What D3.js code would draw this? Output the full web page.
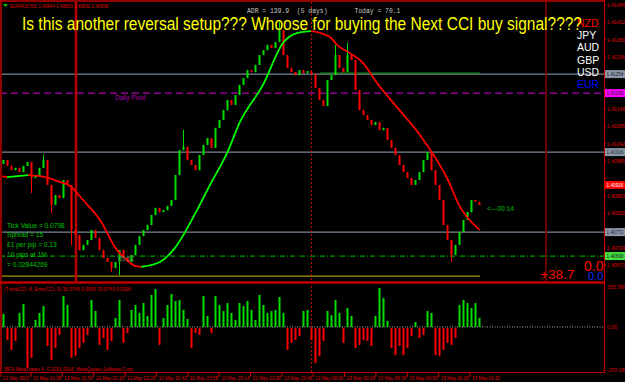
<!DOCTYPE html>
<html>
<head>
<meta charset="utf-8">
<script src="https://cdn.jsdelivr.net/npm/d3@7"></script>
<style>
body{margin:0;background:#000;overflow:hidden}
svg{display:block}
</style>
</head>
<body>
<svg id="vis"></svg>
<script>
// candle closes, one per bar (open = previous close)
const firstOpen = 1.40980;
const closes = [
  1.40992,1.40974,1.40961,1.40968,1.40955,1.40974,1.40986,1.40937,1.40943,1.40968,
  1.40992,1.40916,1.40855,1.40885,1.40876,1.40931,1.40916,1.40778,1.40763,1.40717,
  1.40733,1.40748,1.40778,1.40754,1.40717,1.40693,1.40681,1.40663,1.40681,1.40717,
  1.40693,1.40681,1.40702,1.40733,1.40760,1.40778,1.40794,1.40824,1.40846,1.40833,
  1.40839,1.40852,1.40870,1.40946,1.41022,1.41032,1.40992,1.40977,1.40961,1.41007,
  1.41038,1.41059,1.41029,1.41090,1.41114,1.41144,1.41175,1.41160,1.41190,1.41221,
  1.41242,1.41266,1.41260,1.41282,1.41312,1.41327,1.41343,1.41334,1.41352,1.41388,
  1.41312,1.41273,1.41260,1.41251,1.41266,1.41257,1.41263,1.41254,1.41212,1.41175,
  1.41157,1.41236,1.41251,1.41312,1.41273,1.41260,1.41312,1.41297,1.41205,1.41144,
  1.41129,1.41114,1.41099,1.41108,1.41083,1.41090,1.41053,1.41029,1.41007,1.40977,
  1.40955,1.40937,1.40916,1.40931,1.40955,1.40992,1.41016,1.40961,1.40916,1.40870,
  1.40794,1.40748,1.40702,1.40733,1.40772,1.40809,1.40833,1.40870,1.40864,1.40855
];
// long wicks: [bar, high, low]
const wicks = [
  [7, null, 1.40891],[10, 1.41007, null],[12, null, 1.40830],[17, null, 1.40733],
  [27, null, 1.40650],[29, null, 1.40641],[45, 1.41084, null],[69, 1.41413, null],
  [83, 1.41343, null],[86, 1.41349, null],[112, null, 1.40681]
];
// moving average: [bar, price]
const maPoints = [
  [-0.75,1.40943],[1,1.40940],[6.25,1.40946],[10.5,1.40940],[14.25,1.40925],[16.75,1.40913],
  [20,1.40870],[24.25,1.40809],[28.5,1.40717],[31,1.40687],[33,1.40669],[34.5,1.40666],
  [39.25,1.40681],[43,1.40724],[48.5,1.40839],[51.75,1.40916],[56,1.41013],[59.25,1.41108],
  [65,1.41221],[70,1.41349],[73.5,1.41379],[77.25,1.41385],[81.75,1.41367],[83.5,1.41343],
  [86.75,1.41318],[90,1.41288],[93.5,1.41227],[98,1.41160],[104.25,1.41068],[111.25,1.40931],
  [114.25,1.40849],[116,1.40818],[119.25,1.40778]
];
// CCI histogram
const cci = [
  82,-82,-144,-88,88,144,-257,-194,44,88,
  132,-119,-207,-132,-50,194,138,-194,-182,-132,
  -100,-50,169,100,-113,-69,-144,-88,56,169,
  -100,-38,107,138,88,150,69,201,238,-113,
  56,138,207,163,169,107,50,-132,-38,-50,
  194,69,-38,194,138,100,150,88,44,150,
  132,163,107,44,201,138,88,100,107,188,
  88,-144,-100,-82,-56,100,107,-82,-226,-182,
  -88,100,75,169,88,-100,119,69,-132,-113,
  -82,-88,-119,69,245,182,38,-132,-176,-119,
  -176,-132,-56,31,-69,-50,100,88,-176,-182,
  -144,-100,-113,-69,138,169,150,119,150,56
];
const priceTicks = [1.41465,1.41412,1.41360,1.41306,1.41253,1.41200,1.41148,1.41095,1.41042,
  1.40989,1.40936,1.40883,1.40830,1.40777,1.40724,1.40671];
const grayLevels = [1.41254, 1.41016, 1.40772];
const pivotLevel = 1.41196;
const bidLevel = 1.40916;
const greenLevel = 1.40699;
const oliveLevel = 1.40638;
const shortGreenLevel = 1.41257;
const cciTicks = [250.7961, 0, -270.1889];
const timeLabels = ["12 May 2015","12 May 21:38","12 May 21:54","12 May 22:10","12 May 22:26",
  "12 May 22:42","12 May 22:58","12 May 23:14","12 May 23:30","12 May 23:46","13 May 00:02",
  "13 May 00:18","13 May 00:34","13 May 00:50","13 May 01:06","13 May 01:22"];
const timeValues = [[2015,4,12,21,22],[2015,4,12,21,38],[2015,4,12,21,54],[2015,4,12,22,10],
  [2015,4,12,22,26],[2015,4,12,22,42],[2015,4,12,22,58],[2015,4,12,23,14],[2015,4,12,23,30],
  [2015,4,12,23,46],[2015,4,13,0,2],[2015,4,13,0,18],[2015,4,13,0,34],[2015,4,13,0,50],
  [2015,4,13,1,6],[2015,4,13,1,22]].map(a => new Date(a[0],a[1],a[2],a[3],a[4]));
const currencies = [["NZD","#ff0000"],["JPY","#ffffff"],["AUD","#ffffff"],["GBP","#ffffff"],["USD","#ffffff"],["EUR","#0000ff"]];
const infoLines = ["Tick Value = 0.0798","Spread = 15","\u00a31 per pip = 0.13","10 pips at 1%","= 0.02844269"];

const W = 625, H = 382;
const axisX = 604;
const svg = d3.select("#vis").attr("width", W).attr("height", H);
svg.append("rect").attr("width", W).attr("height", H).attr("fill", "#000");

const xBar = d3.scaleLinear().domain([0, 119]).range([3, 479]);
const y = d3.scaleLinear().domain([1.41480, 1.40626]).range([0, 280]);
const yC = d3.scaleLinear().domain([250.7961, -270.1889]).range([287, 370]);
const xTime = d3.scaleTime().domain([timeValues[1], timeValues[15]]).range([31, 470]);

svg.append("defs").append("clipPath").attr("id", "mainClip")
  .append("rect").attr("x", 2).attr("y", 2).attr("width", axisX - 2).attr("height", 279);
const main = svg.append("g").attr("clip-path", "url(#mainClip)");

// horizontal levels
grayLevels.forEach(p => {
  main.append("line").attr("x1", 0).attr("x2", axisX).attr("y1", y(p)).attr("y2", y(p))
    .attr("stroke", "#778899").attr("stroke-width", 1.2);
});
main.append("line").attr("x1", 320).attr("x2", 480).attr("y1", y(shortGreenLevel)).attr("y2", y(shortGreenLevel))
  .attr("stroke", "#1f8a1f").attr("stroke-width", 1.2);
main.append("line").attr("x1", 0).attr("x2", axisX).attr("y1", y(pivotLevel)).attr("y2", y(pivotLevel))
  .attr("stroke", "#b000b0").attr("stroke-width", 1.2).attr("stroke-dasharray", "7,4");
main.append("line").attr("x1", 0).attr("x2", axisX).attr("y1", y(greenLevel)).attr("y2", y(greenLevel))
  .attr("stroke", "#00a000").attr("stroke-width", 1.2).attr("stroke-dasharray", "5,2,1,2");
main.append("line").attr("x1", 2).attr("x2", 480).attr("y1", y(oliveLevel)).attr("y2", y(oliveLevel))
  .attr("stroke", "#a89a00").attr("stroke-width", 1.2);

// vertical separators
main.append("line").attr("x1", 76).attr("x2", 76).attr("y1", 0).attr("y2", 282)
  .attr("stroke", "#b80000").attr("stroke-width", 2.5);
main.append("line").attr("x1", 546).attr("x2", 546).attr("y1", 0).attr("y2", 282)
  .attr("stroke", "#8a0000").attr("stroke-width", 1.5);
svg.append("line").attr("x1", 311.5).attr("x2", 311.5).attr("y1", 2).attr("y2", 372)
  .attr("stroke", "#d00000").attr("stroke-dasharray", "2,2");

// candles
const bars = closes.map((c, i) => {
  const o = i === 0 ? firstOpen : closes[i - 1];
  return {i, o, c, h: Math.max(o, c), l: Math.min(o, c)};
});
wicks.forEach(w => {
  if (w[1] != null) bars[w[0]].h = w[1];
  if (w[2] != null) bars[w[0]].l = w[2];
});
main.selectAll(".wick").data(bars).enter().append("line")
  .attr("x1", d => xBar(d.i) + 0.5).attr("x2", d => xBar(d.i) + 0.5)
  .attr("y1", d => y(d.h)).attr("y2", d => y(d.l))
  .attr("stroke", d => d.c >= d.o ? "#00e000" : "#ff0000");
main.selectAll(".body").data(bars).enter().append("rect")
  .attr("x", d => xBar(d.i) - 0.5).attr("width", 2)
  .attr("y", d => y(d.h === d.l ? d.h : Math.max(d.o, d.c)))
  .attr("height", d => Math.max(1, Math.abs(y(d.o) - y(d.c))))
  .attr("fill", d => d.c >= d.o ? "#00e000" : "#ff0000");

// moving average split into rising / falling runs
const runs = [];
for (let k = 1; k < maPoints.length; k++) {
  const up = maPoints[k][1] > maPoints[k - 1][1];
  const last = runs[runs.length - 1];
  if (last && last.up === up) last.pts.push(maPoints[k]);
  else runs.push({up, pts: [maPoints[k - 1], maPoints[k]]});
}
const maLine = d3.line().x(d => xBar(d[0])).y(d => y(d[1])).curve(d3.curveMonotoneX);
runs.forEach(r => {
  main.append("path").attr("d", maLine(r.pts)).attr("fill", "none")
    .attr("stroke", r.up ? "#00ff00" : "#ff0000").attr("stroke-width", 1.8);
});

// CCI sub-window
svg.append("line").attr("x1", 2).attr("x2", axisX).attr("y1", yC(0)).attr("y2", yC(0))
  .attr("stroke", "#a8a8a8").attr("stroke-dasharray", "1,1.5");
svg.selectAll(".cci").data(cci).enter().append("rect")
  .attr("x", (d, i) => xBar(i) - 0.5).attr("width", 2)
  .attr("y", d => d >= 0 ? yC(d) : yC(0) + 1)
  .attr("height", d => d >= 0 ? yC(0) - yC(d) : yC(d) - yC(0) - 1)
  .attr("fill", d => d >= 0 ? "#00dd00" : "#ff0000");

// frame
const red = "#e00000";
svg.append("line").attr("x1", 0).attr("x2", axisX).attr("y1", 1).attr("y2", 1).attr("stroke", "#c00000").attr("stroke-width", 1.5);
svg.append("line").attr("x1", 1).attr("x2", 1).attr("y1", 0).attr("y2", 373).attr("stroke", "#c00000").attr("stroke-width", 1.5);
svg.append("line").attr("x1", 0).attr("x2", axisX).attr("y1", 282.5).attr("y2", 282.5).attr("stroke", "#c00000").attr("stroke-width", 2.5);
svg.append("line").attr("x1", 0).attr("x2", axisX).attr("y1", 372.5).attr("y2", 372.5).attr("stroke", "#c00000").attr("stroke-width", 1.2);
svg.append("line").attr("x1", axisX + 0.5).attr("x2", axisX + 0.5).attr("y1", 0).attr("y2", 373).attr("stroke", "#c00000").attr("stroke-width", 1.2);

// price axis (tick labels hidden where a level box sits on top)
const font = "'Liberation Sans', Arial, sans-serif";
const boxes = grayLevels.map(p => [p, "#8a96a8", "#222"]).concat([[pivotLevel, "#ff00ff", "#222"], [bidLevel, "#ff0000", "#fff"], [greenLevel, "#40e040", "#222"]]);
priceTicks.forEach(p => {
  svg.append("line").attr("x1", axisX).attr("x2", axisX + 2).attr("y1", y(p)).attr("y2", y(p)).attr("stroke", red);
  if (boxes.some(b => Math.abs(y(b[0]) - y(p)) < 8)) return;
  svg.append("text").attr("x", axisX + 3).attr("y", y(p) + 2.2).text(p.toFixed(5))
    .attr("textLength", 18).attr("lengthAdjust", "spacingAndGlyphs")
    .attr("font-family", font).attr("font-size", 6).attr("fill", red);
});
boxes.forEach(b => {
  svg.append("rect").attr("x", axisX + 1).attr("y", y(b[0]) - 4).attr("width", 20).attr("height", 8).attr("fill", b[1]);
  svg.append("text").attr("x", axisX + 2.5).attr("y", y(b[0]) + 2.2).text(b[0].toFixed(5))
    .attr("textLength", 17).attr("lengthAdjust", "spacingAndGlyphs")
    .attr("font-family", font).attr("font-size", 6).attr("fill", b[2]);
});
cciTicks.forEach(v => {
  const s = v === 0 ? "0.00" : v.toFixed(4);
  svg.append("text").attr("x", axisX + 3).attr("y", yC(v) + 2.2).text(s)
    .attr("textLength", s.length * 2.55).attr("lengthAdjust", "spacingAndGlyphs")
    .attr("font-family", font).attr("font-size", 6).attr("fill", red);
});

// time axis
timeValues.forEach((t, k) => {
  const tx = k === 0 ? 1 : xTime(t);
  svg.append("line").attr("x1", tx).attr("x2", tx).attr("y1", 373).attr("y2", 377).attr("stroke", red);
  svg.append("text").attr("x", tx + 2).attr("y", 380).text(timeLabels[k])
    .attr("textLength", timeLabels[k].length * 2.35).attr("lengthAdjust", "spacingAndGlyphs")
    .attr("font-family", font).attr("font-size", 6).attr("fill", red);
});

// texts on the main window
svg.append("path").attr("d", "M3,4 L8,4 L5.5,7 Z").attr("fill", "#00c000");
svg.append("text").attr("x", 10).attr("y", 7.5).text("EURAUD,M1  1.40844 1.40863 1.40832 1.40838")
  .attr("textLength", 98).attr("lengthAdjust", "spacingAndGlyphs")
  .attr("font-family", font).attr("font-size", 6).attr("fill", "#e00000");
svg.append("text").attr("x", 247).attr("y", 12.5).attr("xml:space", "preserve")
  .text("ADR = 139.9  (5 days)       Today = 70.1")
  .attr("font-family", "'Liberation Mono', monospace").attr("font-size", 6.4).attr("fill", "#c8c8c8");
svg.append("text").attr("x", 115).attr("y", 99.5).text("Daily Pivot")
  .attr("font-family", font).attr("font-size", 6.5).attr("fill", "#b000b0");
infoLines.forEach((s, k) => {
  svg.append("text").attr("x", 7).attr("y", 227.5 + k * 9.8).text(s)
    .attr("font-family", font).attr("font-size", 6.6).attr("fill", "#00c000");
});
svg.append("text").attr("x", 118).attr("y", 261).text("05:51")
  .attr("font-family", font).attr("font-size", 6.5).attr("fill", "#6a8a6a");
svg.append("text").attr("x", 487).attr("y", 210.5).text("<---00:14")
  .attr("font-family", font).attr("font-size", 6.6).attr("fill", "#00c000");
currencies.forEach((c, k) => {
  svg.append("text").attr("x", 577).attr("y", 27 + k * 12.2).text(c[0])
    .attr("font-family", font).attr("font-size", 10.5).attr("fill", c[1]);
});
svg.append("text").attr("x", 540).attr("y", 279).text("+38.7")
  .attr("font-family", font).attr("font-size", 13.5).attr("fill", "#ff0000");
svg.append("text").attr("x", 584).attr("y", 271).text("0.0")
  .attr("font-family", font).attr("font-size", 14).attr("fill", "#ff0000");
svg.append("text").attr("x", 588).attr("y", 280).text("0.0")
  .attr("font-family", font).attr("font-size", 11).attr("fill", "#1030ff");
svg.append("text").attr("x", 22).attr("y", 30).attr("textLength", 560).attr("lengthAdjust", "spacingAndGlyphs")
  .text("Is this another reversal setup??? Whoose for buying the Next CCI buy signal????")
  .attr("font-family", font).attr("font-size", 17.5).attr("fill", "#ffff00");

// sub-window texts
svg.append("text").attr("x", 4).attr("y", 290.5).text("(TrendCCI: 8, EntryCCI: 0) 35.0745 0.0000 35.0745 0.0000")
  .attr("textLength", 127).attr("lengthAdjust", "spacingAndGlyphs")
  .attr("font-family", font).attr("font-size", 6).attr("fill", "#e00000");
svg.append("text").attr("x", 4).attr("y", 370.5).text("IBFX MetaTrader 4, \u00a9 2001-2014, MetaQuotes Software Corp.")
  .attr("textLength", 130).attr("lengthAdjust", "spacingAndGlyphs")
  .attr("font-family", font).attr("font-size", 6).attr("fill", "#e00000");
</script>
</body>
</html>
